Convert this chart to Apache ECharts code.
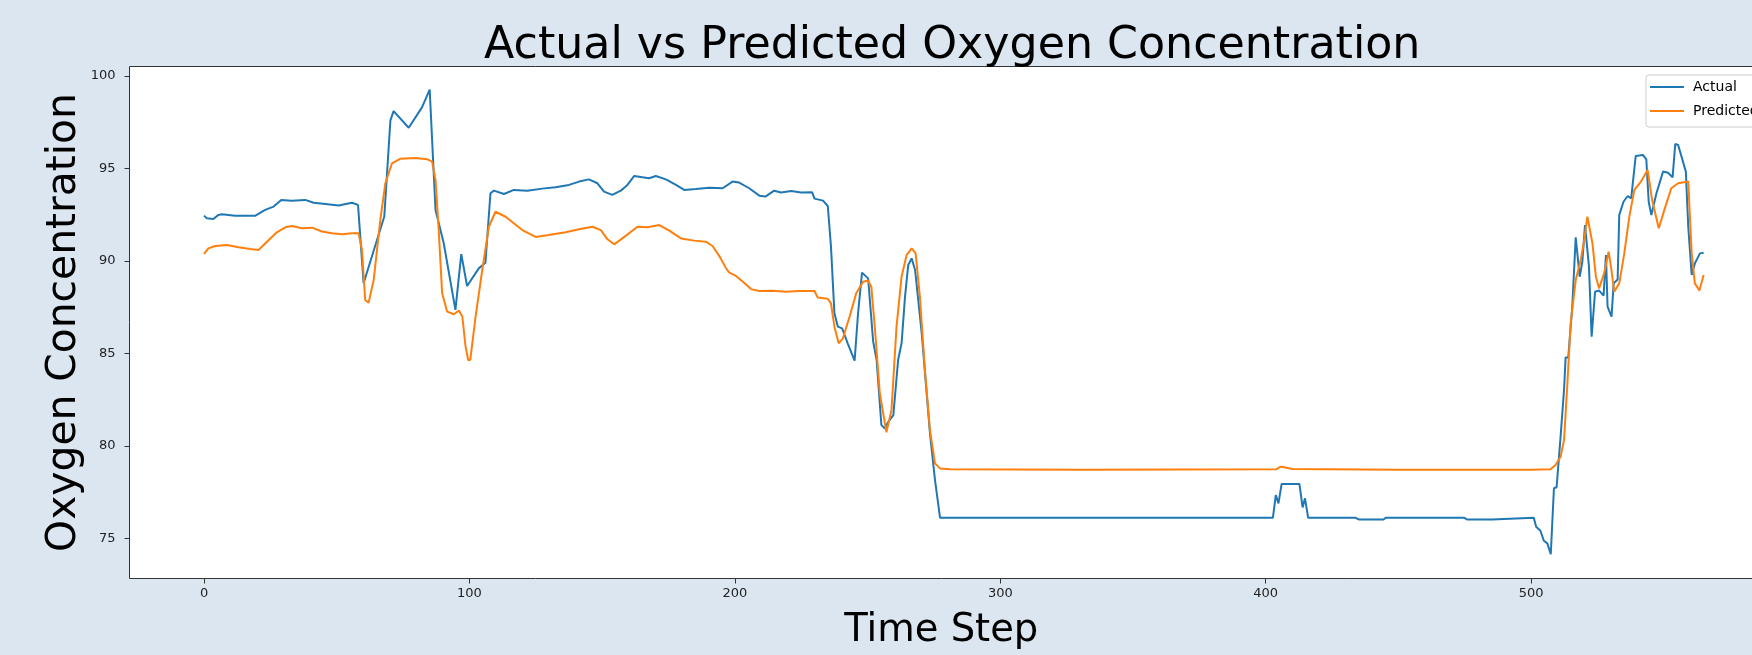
<!DOCTYPE html>
<html><head><meta charset="utf-8">
<script src="https://cdn.jsdelivr.net/npm/echarts@6/dist/echarts.min.js"></script>
<style>html,body{margin:0;padding:0;background:#dce6f1;} #c{width:1752px;height:655px;}</style>
</head><body><div id="c"></div>
<script>
const xTicks = [0, 100, 200, 300, 400, 500];
const yTicks = [75, 80, 85, 90, 95, 100];

const actualSteps = [0,1,3.5,5.4,6.7,11.7,19.2,23,26.2,29.1,33.1,38.1,41.3,45.7,50.7,55.7,58,60.1,67.9,70.2,71.4,77.1,82.1,85,87.2,90.3,94.7,96.9,99.1,103.5,106,107.9,109.2,113,116.7,121.8,127.4,132.4,137.5,141.3,145,148.2,150.7,153.8,157,159.5,162,165.2,167.7,170.2,174,177.8,180.9,185.3,190.4,195.4,199.1,201.6,205.4,209.2,211.5,214.8,217.4,221.2,225,229.1,230,233.2,235,236.2,237.5,238.8,240.4,242.5,245.1,246.4,247.9,250.2,252.1,253.4,255.2,256.5,257.8,259.7,261.5,262.8,264.1,265.3,266.6,267.9,270.4,273.5,275.4,277.3,402.7,403.8,404.8,406,412.7,413.9,414.8,416,433.9,435,444.4,445.2,474.9,475.8,485.3,486,501,501.9,503.5,504.8,506.1,507.4,508.6,509.6,511.1,512.4,513,514,515.5,516.8,518.3,519.3,520.3,521.8,522.8,524.1,525.6,527.3,528.2,528.8,530.3,531.1,532.6,533.2,534.8,536.4,537.7,539.4,542.1,543.4,544.3,545.3,547.2,549.7,551.6,553.3,554.3,555.4,558.3,559.2,560.5,561.7,563.6,565];
const actualValues = [92.45,92.31,92.27,92.49,92.53,92.44,92.44,92.76,92.94,93.3,93.26,93.3,93.15,93.08,93.0,93.15,93.03,88.8,92.4,97.6,98.1,97.2,98.3,99.26,92.76,90.96,87.36,90.37,88.65,89.6,89.9,93.66,93.8,93.62,93.84,93.79,93.91,93.98,94.11,94.29,94.41,94.2,93.75,93.57,93.8,94.11,94.59,94.52,94.47,94.59,94.41,94.11,93.84,93.89,93.96,93.93,94.29,94.24,93.93,93.53,93.48,93.8,93.7,93.78,93.7,93.71,93.37,93.26,92.97,90.78,87.17,86.45,86.36,85.55,84.61,87.17,89.37,89.06,85.64,84.65,81.13,80.95,81.31,81.67,84.65,85.55,88.07,89.78,90.14,89.51,86.09,80.68,78.16,76.12,76.12,77.35,76.9,77.95,77.95,76.68,77.17,76.12,76.12,76.03,76.03,76.12,76.12,76.03,76.03,76.12,76.12,75.64,75.42,74.88,74.74,74.15,77.72,77.77,80.51,83.03,84.79,84.79,87.53,91.28,89.15,89.96,91.94,89.69,85.91,88.34,88.4,88.13,90.32,87.53,86.99,88.79,89.0,92.48,93.2,93.51,93.38,95.67,95.73,95.49,93.2,92.48,93.65,94.83,94.77,94.52,96.32,96.27,94.83,91.86,89.24,89.87,90.41,90.45];

const predictedSteps = [0,1.6,4.2,8.6,13,17.4,20.5,23.7,27.4,30.6,33.1,36.9,40.7,44.4,48.2,52,55.7,58.2,59.5,60.7,62,63.9,66.4,68.3,70.8,74,79.6,84,85.9,87.2,88.4,89.7,91.6,94.1,96,97.3,98.5,99.5,100.3,102.3,104.8,107.3,109.8,113.6,119.9,124.9,129.9,136.2,141.3,146.3,149.5,152,154.5,157.6,163.3,167.1,171.5,175.3,179.7,184.7,189.1,191.6,194.2,196.7,197.9,200.4,203,206.1,209.2,214.2,219.3,224.3,230,231.2,235,236.2,237.5,239.1,240.7,243.2,245.7,248.3,250.2,251.4,252.7,254.6,257.1,259,260.9,262.8,264.7,266.6,268.1,269.7,271.6,273.5,275.4,277.3,281.1,330,404,405.5,407,410,450,500,507.3,509.2,511.1,512.4,513.6,514.9,516.8,518.7,520,521.2,523.1,524.4,525.6,527.5,529.2,530.1,531.3,533.2,535.1,537,538.9,541.4,543.9,545.6,548.1,550.2,552.8,555.4,559.2,560.5,561.7,563.4,565];
const predictedValues = [90.38,90.68,90.81,90.86,90.74,90.65,90.59,91.04,91.55,91.82,91.89,91.77,91.8,91.59,91.5,91.44,91.5,91.5,90.59,87.89,87.75,88.97,92.22,94.2,95.28,95.53,95.57,95.5,95.37,94.38,91.68,88.25,87.26,87.12,87.32,87.0,85.4,84.65,84.65,86.99,89.5,91.85,92.66,92.39,91.67,91.3,91.4,91.55,91.71,91.85,91.67,91.17,90.9,91.22,91.85,91.82,91.94,91.64,91.22,91.1,91.04,90.81,90.25,89.6,89.37,89.19,88.88,88.48,88.38,88.39,88.34,88.38,88.38,88.02,87.96,87.71,86.45,85.55,85.82,86.99,88.25,88.88,88.94,88.61,86.45,82.85,80.74,81.94,86.45,89.15,90.32,90.68,90.41,88.07,84.11,80.86,79.06,78.79,78.74,78.72,78.74,78.88,78.85,78.76,78.72,78.72,78.74,78.97,79.42,80.32,83.21,86.63,88.97,90.05,91.14,92.4,90.96,89.15,88.52,89.33,90.5,89.69,88.34,88.79,90.41,92.4,93.84,94.29,94.92,93.29,91.77,92.76,93.93,94.2,94.29,90.41,88.79,88.4,89.24];

const toPairs = (xs, ys) => xs.map((x, i) => [x, ys[i]]);
const FONT = 'DejaVu Sans';

const chart = echarts.init(document.getElementById('c'), null, {renderer: 'canvas'});
chart.setOption({
  backgroundColor: '#dce6f1',
  animation: false,
  title: {
    text: 'Actual vs Predicted Oxygen Concentration',
    left: 484, top: 24, padding: 0,
    textStyle: {fontFamily: FONT, fontSize: 44.3, fontWeight: 'normal', color: '#000'}
  },
  legend: {
    orient: 'vertical', left: 1646, top: 75,
    padding: [4, 6, 8, 4], itemGap: 8,
    itemWidth: 34, itemHeight: 2, icon: 'rect',
    backgroundColor: 'rgba(255,255,255,0.85)', borderColor: '#cccccc', borderWidth: 1, borderRadius: 3,
    textStyle: {fontFamily: FONT, fontSize: 14, color: '#000', lineHeight: 16, padding: [0, 0, 0, 4]},
    data: ['Actual', 'Predicted']
  },
  grid: {
    left: 129.5, top: 66.5, width: 1623.5, height: 512,
    outerBoundsMode: 'none',
    show: true, backgroundColor: '#ffffff', borderColor: '#333333', borderWidth: 1
  },
  xAxis: {
    type: 'value', min: -28.1, max: 583.6,
    name: 'Time Step', nameLocation: 'middle', nameGap: 33, nameMoveOverlap: false,
    nameTextStyle: {fontFamily: FONT, fontSize: 38.5, color: '#000'},
    axisLine: {show: false, onZero: false},
    axisTick: {show: true, length: 5, lineStyle: {color: '#333', width: 1}, customValues: xTicks},
    axisLabel: {fontFamily: FONT, fontSize: 13, color: '#222', margin: 9, customValues: xTicks},
    splitLine: {show: false}
  },
  yAxis: {
    type: 'value', min: 72.84, max: 100.51,
    name: 'Oxygen Concentration', nameLocation: 'middle', nameGap: 45, nameRotate: 90, nameMoveOverlap: false,
    nameTextStyle: {fontFamily: FONT, fontSize: 40.8, color: '#000'},
    axisLine: {show: false, onZero: false},
    axisTick: {show: true, length: 5, lineStyle: {color: '#333', width: 1}, customValues: yTicks},
    axisLabel: {fontFamily: FONT, fontSize: 13, color: '#222', margin: 14, customValues: yTicks},
    splitLine: {show: false}
  },
  series: [
    {name: 'Actual', type: 'line', data: toPairs(actualSteps, actualValues), showSymbol: false, symbol: 'none',
     lineStyle: {color: '#1f77b4', width: 2}, itemStyle: {color: '#1f77b4'}},
    {name: 'Predicted', type: 'line', data: toPairs(predictedSteps, predictedValues), showSymbol: false, symbol: 'none',
     lineStyle: {color: '#ff7f0e', width: 2}, itemStyle: {color: '#ff7f0e'}}
  ]
});
</script></body></html>
